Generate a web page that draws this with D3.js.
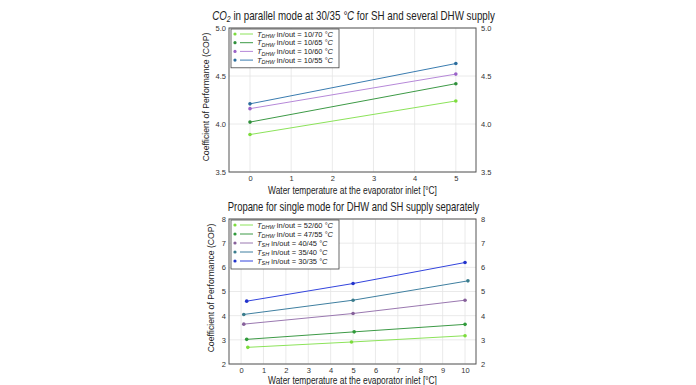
<!DOCTYPE html>
<meta charset="utf-8">
<style>
body { margin: 0; background: #fff; }
text { font-family: "Liberation Sans", sans-serif; fill: #222; }
.grid line { stroke: #e4e4e4; stroke-width: 0.8; }
.frame { fill: none; stroke: #555; stroke-width: 1; }
.tick text { font-size: 7.5px; fill: #333; }
.line { fill: none; stroke-width: 1; }
</style>
<body>
<script src="https://cdn.jsdelivr.net/npm/d3@7"></script>
<script>

// top panel data (CO2, parallel mode)
var co2Temp = [0, 5];
var co2_1070 = [3.89, 4.24];
var co2_1065 = [4.02, 4.42];
var co2_1060 = [4.16, 4.52];
var co2_1055 = [4.21, 4.63];
var co2Ticks = [3.5, 4.0, 4.5, 5.0];

// bottom panel data (propane, single mode)
var propT_5260 = [0.3, 4.93, 10];
var prop_5260 = [2.69, 2.91, 3.17];
var propT_4755 = [0.25, 5.05, 10];
var prop_4755 = [3.02, 3.33, 3.64];
var propT_4045 = [0.12, 5, 10];
var prop_4045 = [3.65, 4.09, 4.64];
var propT_3540 = [0.12, 5, 10.13];
var prop_3540 = [4.05, 4.64, 5.44];
var propT_3035 = [0.25, 5, 10];
var prop_3035 = [4.60, 5.33, 6.20];
var propTicks = [2, 3, 4, 5, 6, 7, 8];

var svg = d3.select("body").append("svg")
    .attr("width", 696)
    .attr("height", 385);

// the original font is narrower: squeeze the text horizontally to the same width
function fit(t, w, pos) {
    var len = t.node().getComputedTextLength();
    var sx = len > w ? w / len : 1;
    t.attr("transform", pos + " scale(" + sx + ",1)");
    return t;
}

function drawPanel(p) {
    var g = svg.append("g").attr("transform", "translate(" + p.left + "," + p.top + ")");
    var x = d3.scaleLinear().domain(p.xDomain).range([0, p.width]);
    var y = d3.scaleLinear().domain(p.yDomain).range([p.height, 0]);

    // grid
    var grid = g.append("g").attr("class", "grid");
    grid.selectAll(".vx").data(p.xTicks).enter().append("line")
        .attr("x1", function(d) { return x(d); }).attr("x2", function(d) { return x(d); })
        .attr("y1", 0).attr("y2", p.height);
    grid.selectAll(".hy").data(p.yTicks).enter().append("line")
        .attr("x1", 0).attr("x2", p.width)
        .attr("y1", function(d) { return y(d); }).attr("y2", function(d) { return y(d); });

    // axes (labels only, no tick marks)
    g.append("g").attr("transform", "translate(0," + p.height + ")")
        .call(d3.axisBottom(x).tickValues(p.xTicks).tickSize(0).tickPadding(4).tickFormat(d3.format("d")))
        .call(function(a) { a.select(".domain").remove(); });
    g.append("g")
        .call(d3.axisLeft(y).tickValues(p.yTicks).tickSize(0).tickPadding(3).tickFormat(d3.format(p.yFmt)))
        .call(function(a) { a.select(".domain").remove(); });
    g.append("g").attr("transform", "translate(" + p.width + ",0)")
        .call(d3.axisRight(y).tickValues(p.yTicks).tickSize(0).tickPadding(5).tickFormat(d3.format(p.yFmt)))
        .call(function(a) { a.select(".domain").remove(); });

    // series
    var line = d3.line()
        .x(function(d) { return x(d[0]); })
        .y(function(d) { return y(d[1]); });
    p.series.forEach(function(s) {
        var pts = d3.zip(s.x, s.y);
        g.append("path").datum(pts).attr("class", "line")
            .attr("stroke", s.line).attr("d", line);
        g.selectAll(null).data(pts).enter().append("circle")
            .attr("cx", function(d) { return x(d[0]); })
            .attr("cy", function(d) { return y(d[1]); })
            .attr("r", 1.8).attr("fill", s.color);
    });

    g.append("rect").attr("class", "frame").attr("width", p.width).attr("height", p.height);

    // legend
    var lg = g.append("g").attr("transform", "translate(2,1)");
    lg.append("rect").attr("width", 108).attr("height", p.series.length * p.rowH + 4)
        .attr("fill", "#fff").attr("stroke", "#444").attr("stroke-width", 0.8);
    p.series.forEach(function(s, i) {
        var yy = 5 + i * p.rowH;
        lg.append("circle").attr("cx", 4).attr("cy", yy).attr("r", 1.6).attr("fill", s.color);
        lg.append("line").attr("x1", 9).attr("x2", 22).attr("y1", yy).attr("y2", yy)
            .attr("stroke", s.line).attr("stroke-width", 1);
        var t = lg.append("text").attr("x", 26).attr("y", yy + 2.6).style("font-size", "7.5px");
        t.append("tspan").style("font-style", "italic").text("T");
        t.append("tspan").style("font-style", "italic").style("font-size", "5.5px").attr("dy", 1.5).text(s.sub);
        t.append("tspan").attr("dy", -1.5).text(" in/out = " + s.label + " ");
        t.append("tspan").style("font-style", "italic").text("°C");
    });

    // axis labels
    fit(g.append("text").attr("text-anchor", "middle").style("font-size", "10.5px")
        .text("Water temperature at the evaporator inlet [°C]"),
        169, "translate(" + (p.width / 2) + "," + (p.height + p.xLabY) + ")");
    fit(g.append("text").attr("text-anchor", "middle").style("font-size", "9.5px")
        .text("Coefficient of Performance (COP)"),
        129, "translate(" + p.yLabX + "," + p.yLabC + ") rotate(-90)");
    return g;
}

var g1 = drawPanel({
    left: 229, top: 28, width: 247, height: 144,
    xDomain: [-0.51, 5.49], yDomain: [3.5, 5.0],
    xTicks: [0, 1, 2, 3, 4, 5], yTicks: co2Ticks, yFmt: ".1f",
    rowH: 8.7, xLabY: 21.5, yLabX: -20, yLabC: 69,
    series: [
        {x: co2Temp, y: co2_1070, color: "#7cdc3c", line: "#8ce35a", sub: "DHW", label: "10/70"},
        {x: co2Temp, y: co2_1065, color: "#2f8f3a", line: "#3d9a46", sub: "DHW", label: "10/65"},
        {x: co2Temp, y: co2_1060, color: "#9a62c8", line: "#b688d8", sub: "DHW", label: "10/60"},
        {x: co2Temp, y: co2_1055, color: "#2a6c9c", line: "#3a7cb0", sub: "DHW", label: "10/55"}
    ]
});
var t1 = g1.append("text").attr("text-anchor", "middle").style("font-size", "12px");
t1.append("tspan").style("font-style", "italic").text("CO");
t1.append("tspan").style("font-style", "italic").style("font-size", "8.5px").attr("dy", 1.5).text("2");
t1.append("tspan").attr("dy", -1.5).text(" in parallel mode at 30/35 ");
t1.append("tspan").style("font-style", "italic").text("°C");
t1.append("tspan").text(" for SH and several DHW supply");
fit(t1, 283, "translate(" + (247 / 2 + 1) + ",-8)");

var g2 = drawPanel({
    left: 229, top: 219, width: 247, height: 145,
    xDomain: [-0.54, 10.49], yDomain: [2, 8],
    xTicks: d3.range(0, 11), yTicks: propTicks, yFmt: "d",
    rowH: 9, xLabY: 20, yLabX: -15, yLabC: 69,
    series: [
        {x: propT_5260, y: prop_5260, color: "#7cdc3c", line: "#8ce35a", sub: "DHW", label: "52/60"},
        {x: propT_4755, y: prop_4755, color: "#2f9a3a", line: "#3d9a46", sub: "DHW", label: "47/55"},
        {x: propT_4045, y: prop_4045, color: "#86609a", line: "#9a78b0", sub: "SH", label: "40/45"},
        {x: propT_3540, y: prop_3540, color: "#3a7c8c", line: "#3f7fa0", sub: "SH", label: "35/40"},
        {x: propT_3035, y: prop_3035, color: "#2233cc", line: "#3344dd", sub: "SH", label: "30/35"}
    ]
});
fit(g2.append("text").attr("text-anchor", "middle").style("font-size", "12px")
    .text("Propane for single mode for DHW and SH supply separately"),
    252, "translate(" + (247 / 2 + 1) + ",-8)");

</script>
</body>
